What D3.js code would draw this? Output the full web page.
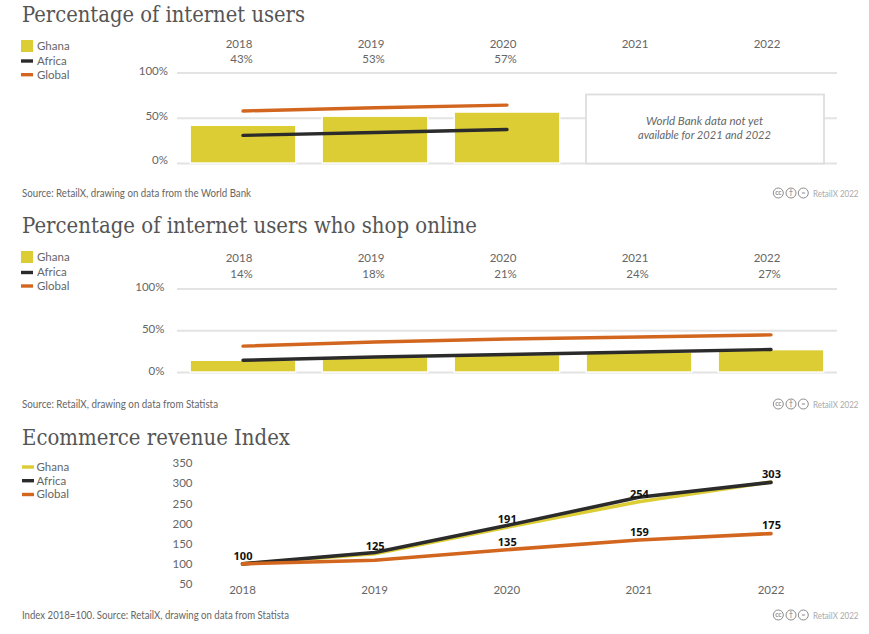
<!DOCTYPE html>
<html><head><meta charset="utf-8">
<script src="https://cdn.jsdelivr.net/npm/d3@7/dist/d3.min.js"></script>
<style>
html,body{margin:0;padding:0;background:#fff}
svg{display:block}
text{font-family:"Lato","Noto Sans",sans-serif}
.domain{display:none}
</style></head><body><svg id="c" width="869" height="634"></svg>
<script>
const years = ["2018","2019","2020","2021","2022"];
const titles = ["Percentage of internet users","Percentage of internet users who shop online","Ecommerce revenue Index"];
const sources = ["Source: RetailX, drawing on data from the World Bank","Source: RetailX, drawing on data from Statista","Index 2018=100. Source: RetailX, drawing on data from Statista"];
const seriesNames = ["Ghana","Africa","Global"];
const noteLines = ["World Bank data not yet","available for 2021 and 2022"];

const usersLabels = ["43%","53%","57%",null,null];
const usersGhana = [41.7,51.7,56.3];
const usersAfrica = [30.5,33.7,37];
const usersGlobal = [57.5,61,64];

const shopLabels = ["14%","18%","21%","24%","27%"];
const shopGhana = [14,17.9,20.8,23.9,26.8];
const shopAfrica = [14,18,21,24,27];
const shopGlobal = [31,36,39.5,42,44.5];

const revGhana = [100,125,191,254,303];
const revAfrica = [100,128,195,265,302];
const revGlobal = [100,109,135,159,175];
const revTicks = [50,100,150,200,250,300,350];
const revGlobalLabelled = ["2020","2021","2022"];

const YEL="#dccd35", BLK="#2b2b2b", ORG="#d2661f", GRID="#e3e3e3", TXT="#666";
const svg=d3.select("#c");
const band=d3.scaleBand().domain(years).range([177,837]).paddingInner(0.2).paddingOuter(0.1);
const centre=y=>band(y)+band.bandwidth()/2;
const line=(yS)=>d3.line().x(d=>centre(d.y)).y(d=>yS(d.v));
const pairs=a=>a.map((v,i)=>({y:years[i],v}));

function title(i,y,len){
  svg.append("text").attr("x",22).attr("y",y).text(titles[i])
    .attr("textLength",len).attr("lengthAdjust","spacingAndGlyphs")
    .style("font-family","'DejaVu Serif',serif").style("font-size","22.5px").attr("fill","#555");
}
function legend(ys,tys,firstSquare,x0,tx){
  seriesNames.forEach((n,i)=>{
    const col=[YEL,BLK,ORG][i];
    if(i==0&&firstSquare) svg.append("rect").attr("x",x0).attr("y",ys[0]-6).attr("width",12).attr("height",12).attr("fill",col);
    else svg.append("line").attr("x1",x0).attr("x2",x0+12).attr("y1",ys[i]).attr("y2",ys[i]).attr("stroke",col).attr("stroke-width",3.4);
    svg.append("text").attr("x",tx).attr("y",tys[i]).attr("dy","0.35em").text(n)
      .style("font-size","11.5px").attr("fill",TXT);
  });
}
function footer(i,y,len){
  svg.append("text").attr("x",22).attr("y",y).attr("dy","0.35em").text(sources[i])
    .attr("textLength",len).attr("lengthAdjust","spacingAndGlyphs")
    .style("font-size","10.6px").attr("fill",TXT);
  [["cc",778.3],["\u2020",791],["=",803.3]].forEach(([s,x])=>{
    svg.append("circle").attr("cx",x).attr("cy",y-.5).attr("r",5).attr("fill","#fff").attr("stroke","#8c8c8c").attr("stroke-width",1);
    svg.append("text").attr("x",x).attr("y",y-.5).attr("dy","0.35em").attr("text-anchor","middle").text(s)
      .style("font-size","6.5px").style("font-weight","700").attr("fill","#8c8c8c");
  });
  svg.append("text").attr("x",813).attr("y",y).attr("dy","0.35em").text("RetailX 2022")
    .attr("textLength",45.5).attr("lengthAdjust","spacingAndGlyphs")
    .style("font-size","9px").attr("fill","#aaa");
}
function barPanel(o){
  const y=d3.scaleLinear().domain([0,100]).range([o.y0,o.y100]);
  const lab=d3.scaleLinear().domain([0,100]).range(o.labRange);
  const g=svg.append("g");
  g.append("g").attr("transform","translate(177,0)")
    .call(d3.axisLeft(y).tickValues([0,50,100]).tickSize(-660).tickFormat(""))
    .call(s=>s.selectAll(".tick line").attr("stroke",GRID).attr("stroke-width",1.8));
  g.append("g").attr("transform",`translate(${o.labX},0)`)
    .call(d3.axisLeft(lab).tickValues([0,50,100]).tickSize(0).tickPadding(0).tickFormat(d=>d+"%"))
    .call(s=>s.selectAll("text").style("font-size","11.5px").style("font-family","Lato").attr("fill",TXT));
  if(o.note){
    const xs=[586,824];
    g.append("rect").attr("x",xs[0]).attr("y",94.5).attr("width",xs[1]-xs[0]).attr("height",69)
      .attr("fill","#fff").attr("stroke","#dedede").attr("stroke-width",1.8);
    noteLines.forEach((t,i)=>g.append("text").attr("x",704.5).attr("y",120.5+i*14.5).attr("dy","0.35em").attr("text-anchor","middle")
      .text(t).attr("textLength",[117,133][i]).attr("lengthAdjust","spacingAndGlyphs")
      .style("font-size","11.5px").style("font-style","italic").attr("fill",TXT));
  }
  g.selectAll(".b").data(pairs(o.ghana)).join("rect").attr("x",d=>band(d.y)).attr("width",band.bandwidth())
    .attr("y",d=>y(d.v)).attr("height",d=>y(0)-y(d.v)).attr("fill",YEL).attr("stroke","#fff").attr("stroke-width",1.4);
  [[o.global,ORG],[o.africa,BLK]].forEach(([a,c])=>{
    g.append("path").attr("d",line(y)(pairs(a))).attr("fill","none").attr("stroke",c).attr("stroke-width",3.4).attr("stroke-linecap","round");
  });
  years.forEach((yr,i)=>{
    g.append("text").attr("x",centre(yr)-4).attr("y",o.yearY).attr("dy","0.35em").attr("text-anchor","middle").text(yr)
      .style("font-size","11.5px").attr("fill",TXT);
    if(o.labels[i]) g.append("text").attr("x",centre(yr)-1.5).attr("y",o.valY).attr("dy","0.35em").attr("text-anchor","middle").text(o.labels[i])
      .style("font-size","11.5px").attr("fill",TXT);
  });
}

title(0,22,283);
legend([46,61,74.7],[45.5,61,74.5],true,21,37);
barPanel({y0:163,y100:72.5,labRange:[160,71],labX:168,ghana:usersGhana,africa:usersAfrica,global:usersGlobal,labels:usersLabels,yearY:44,valY:58.5,note:true});
footer(0,193.5,229);

title(1,233,455);
legend([257,272.5,286],[257,272,286],true,21,37);
barPanel({y0:372,y100:288.5,labRange:[370.5,287],labX:164.5,ghana:shopGhana,africa:shopAfrica,global:shopGlobal,labels:shopLabels,yearY:258,valY:273.5});
footer(1,404.5,196);

title(2,445,268);
legend([467,480.7,494.5],[467,481,494],false,22,36.5);
const yR=d3.scaleLinear().domain([50,350]).range([584,463]);
const xR=d3.scalePoint().domain(years).range([242.5,771]);
svg.append("g").attr("transform","translate(192.5,0)")
  .call(d3.axisLeft(yR).tickValues(revTicks).tickSize(0).tickPadding(0))
  .call(s=>s.selectAll("text").style("font-size","11.5px").style("font-family","Lato").attr("fill",TXT));
svg.append("g").attr("transform","translate(-0.5,586)")
  .call(d3.axisBottom(xR).tickSize(0).tickPadding(0))
  .call(s=>s.selectAll("text").style("font-size","11.5px").style("font-family","Lato").attr("fill",TXT));
const lr=d3.line().x(d=>xR(d.y)).y(d=>yR(d.v));
[[revGhana,YEL],[revAfrica,BLK],[revGlobal,ORG]].forEach(([a,c])=>{
  svg.append("path").attr("d",lr(pairs(a))).attr("fill","none").attr("stroke",c).attr("stroke-width",3.6).attr("stroke-linecap","round").attr("stroke-linejoin","round");
});
const labelRows=[...pairs(revGhana),...pairs(revGlobal).filter(d=>revGlobalLabelled.includes(d.y))];
svg.append("g").selectAll("text").data(labelRows).join("text")
  .attr("x",d=>xR(d.y)+.5).attr("y",d=>yR(d.v)-8).attr("dy","0.35em").attr("text-anchor","middle")
  .text(d=>d.v).style("font-size","11px").style("font-weight","700").style("font-family","'Noto Sans'").attr("fill","#111");
footer(2,615.5,267);
</script></body></html>
